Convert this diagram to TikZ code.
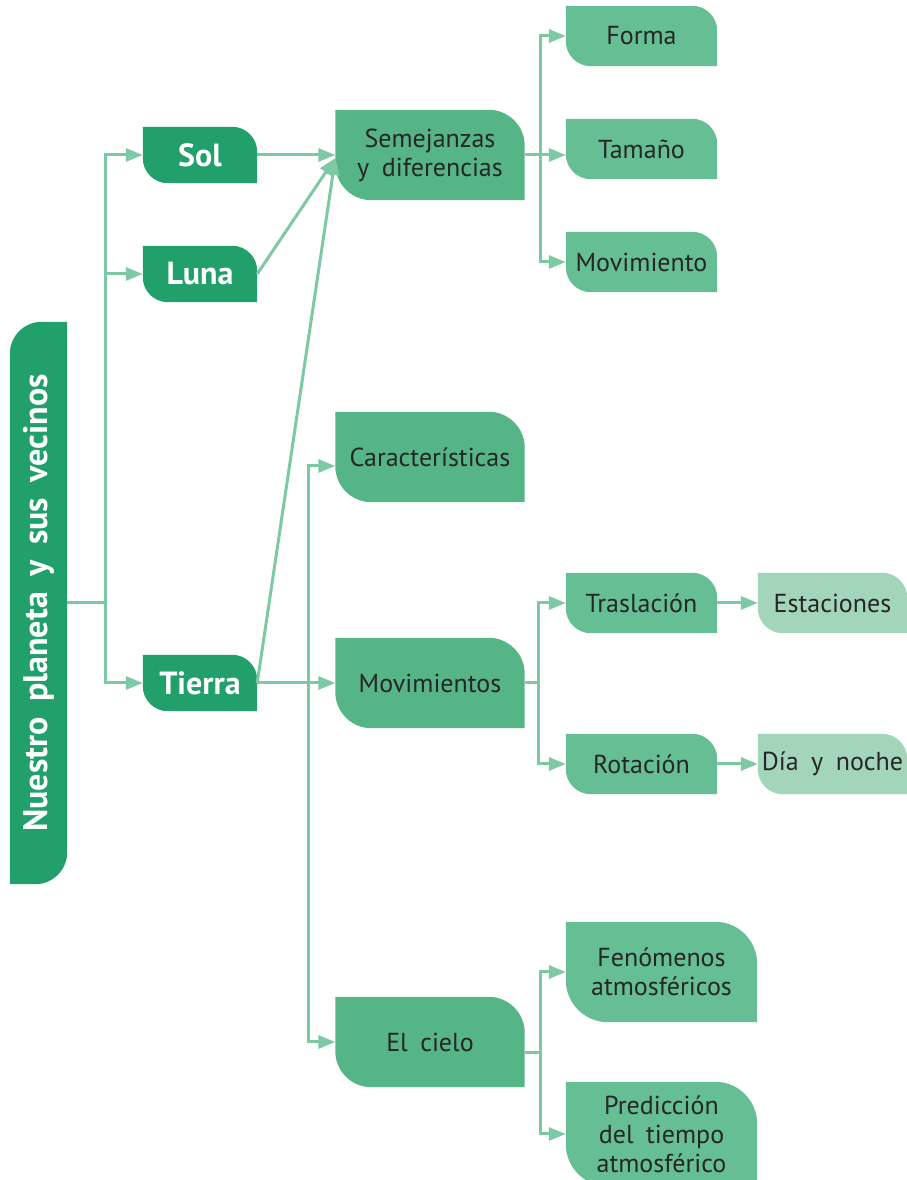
\documentclass[tikz,border=0pt]{standalone}
\usepackage{fontspec}
\usepackage{graphicx}
\setmainfont{PT Sans}[WordSpace=1.8]
\usetikzlibrary{arrows.meta,backgrounds}

\definecolor{rootgreen}{HTML}{22A06C}
\definecolor{secondgreen}{HTML}{55B587}
\definecolor{thirdgreen}{HTML}{66BE94}
\definecolor{palegreen}{HTML}{A3D5BB}
\definecolor{linkgreen}{HTML}{7DC9A4}
\definecolor{labeltext}{HTML}{262626}

% Leaf-shaped fill: rounded top-right and bottom-left corners
\newcommand{\leaffill}[3]{%
  \fill[#3] (#1.north west) -- ([xshift=-#2]#1.north east)
    arc[start angle=90,end angle=0,radius=#2] -- (#1.south east)
    -- ([xshift=#2]#1.south west)
    arc[start angle=270,end angle=180,radius=#2] -- cycle;}

% Vertical title bar: rounded top-left and bottom-right corners
\newcommand{\barfill}[3]{%
  \fill[#3] ([yshift=-#2]#1.north west)
    arc[start angle=180,end angle=90,radius=#2] -- (#1.north east)
    -- ([yshift=#2]#1.south east)
    arc[start angle=0,end angle=-90,radius=#2] -- (#1.south west) -- cycle;}

\tikzset{
  lbl/.style={inner sep=0pt, align=center, text=labeltext,
    font=\fontsize{26}{29}\selectfont},
  boldlbl/.style={inner sep=0pt, align=center, text=white,
    font=\fontsize{32}{34}\selectfont\bfseries,
    minimum width=114pt, minimum height=56pt},
  midbox/.style={lbl, minimum width=189pt, minimum height=90pt},
  smallbox/.style={lbl, minimum width=151pt, minimum height=60pt},
  endbox/.style={lbl, minimum width=149pt, minimum height=60pt},
  tallbox/.style={lbl, minimum width=191pt},
  wire/.style={draw=linkgreen, line width=3pt},
  link/.style={wire, -{Triangle[length=17pt,width=13pt]}},
}

\begin{document}
\begin{tikzpicture}[x=1pt,y=1pt]
\path[use as bounding box] (0,0) rectangle (907,1180);
\clip (0,0) rectangle (907,1180);

% title bar
\node[inner sep=0pt, minimum width=57pt, minimum height=562pt, text=white,
  font=\fontsize{34}{36}\selectfont\bfseries] (root) at (38.5,577)
  {\rotatebox{90}{Nuestro planeta y sus vecinos}};

% first level
\node[boldlbl] (sol) at (200,1025) {Sol};
\node[boldlbl] (luna) at (200,906) {Luna};
\node[boldlbl] (tierra) at (200,497) {Tierra};

% second level
\node[midbox] (sem) at (430,1025) {Semejanzas\\y diferencias};
\node[midbox] (car) at (430,723) {Características};
\node[midbox] (mov) at (430,497) {Movimientos};
\node[midbox] (cielo) at (430,138) {El cielo};

% third level
\node[smallbox] (forma) at (641.5,1144) {Forma};
\node[smallbox] (tam) at (641.5,1031) {Tamaño};
\node[smallbox] (movi) at (641.5,918) {Movimiento};
\node[smallbox] (tras) at (641.5,577) {Traslación};
\node[smallbox] (rot) at (641.5,416) {Rotación};
\node[tallbox, minimum height=100pt] (fen) at (661.5,208) {Fenómenos\\atmosféricos};
\node[tallbox, minimum height=104pt] (pred) at (661.5,46) {Predicción\\del tiempo\\atmosférico};

% fourth level
\node[endbox] (est) at (832.5,577) {Estaciones};
\node[endbox] (dia) at (832.5,416) {Día y noche};

\begin{scope}[on background layer]
  \barfill{root}{32pt}{rootgreen}
  \leaffill{sol}{25pt}{rootgreen}
  \leaffill{luna}{25pt}{rootgreen}
  \leaffill{tierra}{25pt}{rootgreen}
  \leaffill{sem}{36pt}{secondgreen}
  \leaffill{car}{36pt}{secondgreen}
  \leaffill{mov}{36pt}{secondgreen}
  \leaffill{cielo}{36pt}{secondgreen}
  \leaffill{forma}{25pt}{thirdgreen}
  \leaffill{tam}{25pt}{thirdgreen}
  \leaffill{movi}{25pt}{thirdgreen}
  \leaffill{tras}{25pt}{thirdgreen}
  \leaffill{rot}{25pt}{thirdgreen}
  \leaffill{fen}{42pt}{thirdgreen}
  \leaffill{pred}{42pt}{thirdgreen}
  \leaffill{est}{25pt}{palegreen}
  \leaffill{dia}{25pt}{palegreen}
\end{scope}

% junction points
\coordinate (trunk) at (105,577);
\coordinate (t2) at (308,497);
\coordinate (j1) at (540,1025);
\coordinate (j2) at (538,497);
\coordinate (j3) at (540,127);
\coordinate (semin) at ([yshift=-3pt]sem.west);

% title bar to first level
\draw[wire] (root.east) -- (trunk);
\draw[link] (trunk) |- (sol.west);
\draw[link] (trunk) |- (luna.west);
\draw[link] (trunk) |- (tierra.west);

% first level to second level
\draw[link] (sol.east) -- (sem.west);
\draw[link] (luna.east) -- (semin);
\draw[link] (tierra.east) -- (semin);
\draw[link] (tierra.east) -- (mov.west);
\draw[link] (t2) |- ([yshift=-9pt]car.west);
\draw[link] (t2) |- (cielo.west);

% Semejanzas y diferencias
\draw[wire] (sem.east) -- (j1);
\draw[link] (j1) |- (forma.west);
\draw[link] (j1) -- (j1 -| tam.west);
\draw[link] (j1) |- (movi.west);

% Movimientos
\draw[wire] (mov.east) -- (j2);
\draw[link] (j2) |- (tras.west);
\draw[link] (j2) |- (rot.west);
\draw[link] (tras.east) -- (est.west);
\draw[link] (rot.east) -- (dia.west);

% El cielo
\draw[wire] (cielo.east |- j3) -- (j3);
\draw[link] (j3) |- (fen.west);
\draw[link] (j3) |- (pred.west);
\end{tikzpicture}
\end{document}
